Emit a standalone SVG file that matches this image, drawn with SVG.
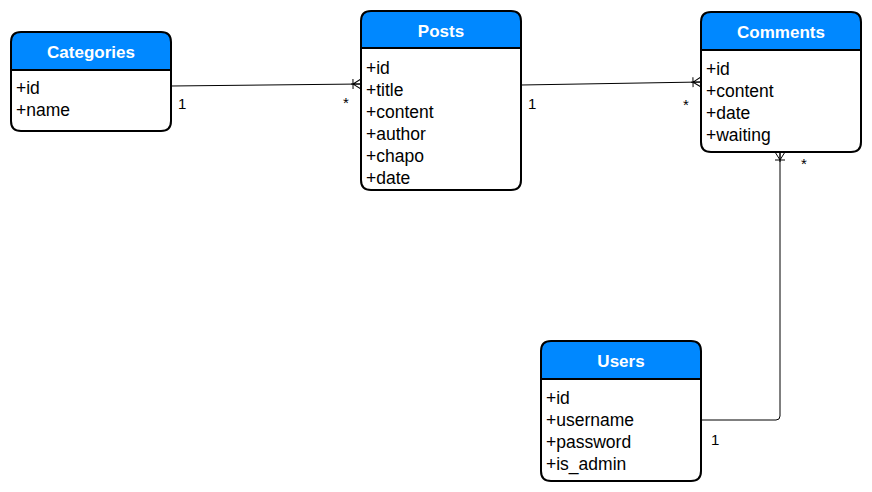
<svg xmlns="http://www.w3.org/2000/svg" width="872" height="492" viewBox="0 0 872 492">
<style>
.box{fill:#fff;stroke:#000;stroke-width:2}
.hdr{fill:#0088ff;stroke:#000;stroke-width:2}
.ht{font-family:"Liberation Sans",Arial,sans-serif;font-size:17px;font-weight:bold;fill:#fff;text-anchor:middle}
.at{font-family:"Liberation Sans",Arial,sans-serif;font-size:17.5px;fill:#000}
.lb{font-family:"Liberation Sans",Arial,sans-serif;font-size:15px;fill:#000}
.cn{fill:none;stroke:#000;stroke-width:1}
</style>
<defs>
<marker id="many" markerWidth="12" markerHeight="12" refX="10" refY="6" orient="auto" markerUnits="userSpaceOnUse">
<path d="M0,6 L10,6 M10,1 L2,6 L10,11 M2,1 L2,11" fill="none" stroke="#000" stroke-width="1"/>
</marker>
</defs>
<g id="connectors">
<path class="cn" d="M171,86 L361,84" marker-end="url(#many)"/>
<path class="cn" d="M521,85 L701,82" marker-end="url(#many)"/>
<path class="cn" d="M701,420 L776,420 Q780,420 780,416 L780,152" marker-end="url(#many)"/>
<text class="lb" x="178" y="109">1</text>
<text class="lb" x="343" y="108">*</text>
<text class="lb" x="528" y="109">1</text>
<text class="lb" x="683" y="110">*</text>
<text class="lb" x="801" y="169">*</text>
<text class="lb" x="711" y="445">1</text>
</g>
<g id="categories">
<path class="hdr" d="M11,70 L11,42 Q11,32 21,32 L161,32 Q171,32 171,42 L171,70 Z"/>
<path class="box" d="M11,70 L171,70 L171,121 Q171,131 161,131 L21,131 Q11,131 11,121 Z"/>
<text class="ht" x="91" y="58">Categories</text>
<text class="at" x="16" y="94">+id</text>
<text class="at" x="16" y="116">+name</text>
</g>
<g id="posts">
<path class="hdr" d="M361,48 L361,21 Q361,11 371,11 L511,11 Q521,11 521,21 L521,48 Z"/>
<path class="box" d="M361,48 L521,48 L521,180 Q521,190 511,190 L371,190 Q361,190 361,180 Z"/>
<text class="ht" x="441" y="37">Posts</text>
<text class="at" x="366" y="74">+id</text>
<text class="at" x="366" y="96">+title</text>
<text class="at" x="366" y="118">+content</text>
<text class="at" x="366" y="140">+author</text>
<text class="at" x="366" y="162">+chapo</text>
<text class="at" x="366" y="184">+date</text>
</g>
<g id="comments">
<path class="hdr" d="M701,50 L701,22 Q701,12 711,12 L851,12 Q861,12 861,22 L861,50 Z"/>
<path class="box" d="M701,50 L861,50 L861,142 Q861,152 851,152 L711,152 Q701,152 701,142 Z"/>
<text class="ht" x="781" y="38">Comments</text>
<text class="at" x="706" y="75">+id</text>
<text class="at" x="706" y="97">+content</text>
<text class="at" x="706" y="119">+date</text>
<text class="at" x="706" y="141">+waiting</text>
</g>
<g id="users">
<path class="hdr" d="M541,379 L541,351 Q541,341 551,341 L691,341 Q701,341 701,351 L701,379 Z"/>
<path class="box" d="M541,379 L701,379 L701,471 Q701,481 691,481 L551,481 Q541,481 541,471 Z"/>
<text class="ht" x="621" y="367">Users</text>
<text class="at" x="546" y="404">+id</text>
<text class="at" x="546" y="426">+username</text>
<text class="at" x="546" y="448">+password</text>
<text class="at" x="546" y="470">+is_admin</text>
</g>
</svg>
